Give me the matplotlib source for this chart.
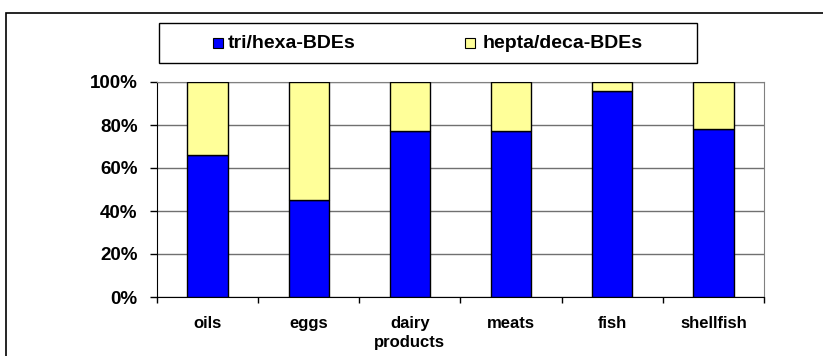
import matplotlib.pyplot as plt
import numpy as np
from matplotlib.patches import Rectangle

plt.rcParams['font.family'] = ['Liberation Sans', 'DejaVu Sans']
plt.rcParams['font.weight'] = 'bold'

categories = ['oils', 'eggs', 'dairy\nproducts', 'meats', 'fish', 'shellfish']
tri_hexa = [66, 45, 77, 77, 96, 78]
hepta_deca = [100 - v for v in tri_hexa]
series_names = ['tri/hexa-BDEs', 'hepta/deca-BDEs']
colors = ['#0000FF', '#FFFF99']

W, H = 823, 356
fig = plt.figure(figsize=(W / 100, H / 100), dpi=100)


def px(x, y):
    # pixel position (from top-left) -> figure fraction
    return x / W, 1 - y / H


# outer chart frame (runs off right and bottom edges)
fig.patches.append(Rectangle(px(6, 360), 1.1, (360 - 13) / H, transform=fig.transFigure,
                             fill=False, edgecolor='black', linewidth=1.2))

ax = fig.add_axes([157 / W, 1 - 297 / H, (764 - 157) / W, (297 - 82) / H])
x = np.arange(len(categories))
ax.bar(x, tri_hexa, width=0.4, color=colors[0], edgecolor='black', linewidth=1, zorder=3)
ax.bar(x, hepta_deca, bottom=tri_hexa, width=0.4, color=colors[1], edgecolor='black', linewidth=1, zorder=3)

ax.set_xlim(-0.5, len(categories) - 0.5)
ax.set_ylim(0, 100)
ax.set_yticks(np.arange(0, 101, 20))
ax.set_yticklabels([f'{v}%' for v in range(0, 101, 20)], fontsize=13.5, fontweight='bold')
ax.yaxis.grid(True, color='#707070', linewidth=1, zorder=0)

# category labels at centres, ticks at boundaries
ax.set_xticks(np.arange(-0.5, len(categories), 1))
ax.set_xticklabels([])
ax.set_xticks(x, minor=True)
ax.set_xticklabels(categories, minor=True, fontsize=12, fontweight='bold', linespacing=1.3)
ax.tick_params(axis='x', which='minor', length=0, pad=14)
ax.tick_params(axis='x', which='major', length=4, direction='out', width=1)
ax.tick_params(axis='y', length=5, direction='out', width=1, pad=9)

ax.spines['left'].set_color('black')
ax.spines['bottom'].set_color('black')
ax.spines['top'].set_color('#808080')
ax.spines['right'].set_color('#808080')

# legend box with square swatches
fig.patches.append(Rectangle(px(159, 63), (697 - 159) / W, 40 / H, transform=fig.transFigure,
                             facecolor='white', edgecolor='black', linewidth=1))
for (sx, tx), name, c in zip([(213, 228), (465, 483)], series_names, colors):
    fig.patches.append(Rectangle(px(sx, 48), 10 / W, 10 / H, transform=fig.transFigure,
                                 facecolor=c, edgecolor='black', linewidth=0.8))
    fig.text(*px(tx, 43), name, fontsize=14, fontweight='bold', ha='left', va='center')

fig.savefig('out.png', dpi=100)
